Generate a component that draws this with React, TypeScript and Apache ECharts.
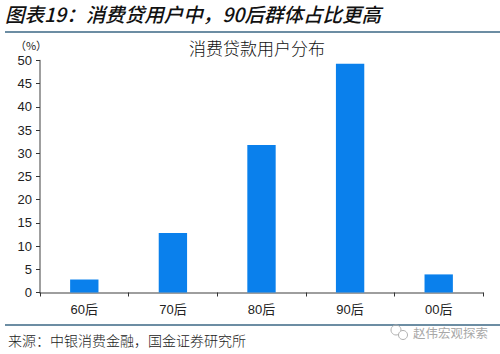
import React, { useEffect, useRef } from "react";
import * as echarts from "echarts";

const categories = ["60后", "70后", "80后", "90后", "00后"];
const shares = [2.8, 12.8, 31.8, 49.3, 3.9];
const yTicks = { min: 0, max: 50, interval: 5 };
const headline = "图表19：消费贷用户中，90后群体占比更高";
const chartTitle = "消费贷款用户分布";
const unitLabel = "（%）";
const sourceText = "来源：中银消费金融，国金证券研究所";
const watermark = "赵伟宏观探索";

export default function App() {
  const ref = useRef<HTMLDivElement>(null);
  useEffect(() => {
    if (!ref.current) return;
    const chart = echarts.init(ref.current, null, { renderer: "svg" });
    const axisColor = "#7f7f7f";
    const lineColor = "#3b6784";
    chart.setOption({
      animation: false,
      backgroundColor: "#ffffff",
      grid: { left: 40, right: 17, top: 60.5, bottom: 61.5, containLabel: false },
      xAxis: {
        type: "category",
        data: categories,
        boundaryGap: true,
        axisLine: { lineStyle: { color: axisColor, width: 1.5 } },
        axisTick: { show: true, alignWithLabel: false, length: 4, lineStyle: { color: "#333" } },
        axisLabel: { color: "#222", fontSize: 13, fontFamily: "Liberation Sans, Noto Sans CJK SC", margin: 10 },
      },
      yAxis: {
        type: "value",
        min: yTicks.min,
        max: yTicks.max,
        interval: yTicks.interval,
        axisLine: { show: true, lineStyle: { color: axisColor, width: 1.5 } },
        axisTick: { show: true, inside: false, length: 4, lineStyle: { color: "#333" } },
        splitLine: { show: false },
        axisLabel: { color: "#222", fontSize: 13, fontFamily: "Liberation Sans", margin: 8 },
      },
      series: [
        {
          type: "bar",
          data: shares,
          barWidth: "32%",
          itemStyle: { color: "#0a80ec" },
        },
      ],
      graphic: [
        {
          type: "text",
          left: 5,
          top: 4,
          style: {
            text: headline,
            fontSize: 19.5,
            fontStyle: "italic",
            fontWeight: 500,
            fontFamily: "Noto Sans CJK SC",
            fill: "#111",
          },
        },
        {
          type: "line",
          shape: { x1: 5, y1: 32, x2: 500, y2: 32 },
          style: { stroke: lineColor, lineWidth: 1.5 },
        },
        {
          type: "text",
          x: 257,
          y: 47,
          style: {
            text: chartTitle,
            fontSize: 17,
            fontWeight: 300,
            fontFamily: "Noto Sans CJK SC",
            fill: "#111",
            align: "center",
            verticalAlign: "middle",
          },
        },
        {
          type: "text",
          x: 31,
          y: 45,
          style: {
            text: unitLabel,
            fontSize: 11,
            fontFamily: "Noto Sans CJK SC",
            fill: "#222",
            align: "center",
            verticalAlign: "middle",
          },
        },
        {
          type: "line",
          shape: { x1: 5, y1: 325, x2: 500, y2: 325 },
          style: { stroke: lineColor, lineWidth: 1.5 },
        },
        {
          type: "text",
          x: 8,
          y: 340,
          style: {
            text: sourceText,
            fontSize: 14,
            fontWeight: 300,
            fontFamily: "Noto Sans CJK SC",
            fill: "#222",
            verticalAlign: "middle",
          },
        },
        {
          type: "circle",
          shape: { cx: 396, cy: 330, r: 5 },
          style: { fill: "none", stroke: "#b0b0b0", lineWidth: 1 },
        },
        {
          type: "circle",
          shape: { cx: 403, cy: 335, r: 4.5 },
          style: { fill: "#ffffff", stroke: "#b0b0b0", lineWidth: 1 },
        },
        {
          type: "text",
          x: 413,
          y: 332,
          style: {
            text: watermark,
            fontSize: 12.5,
            fontFamily: "Noto Sans CJK SC",
            fill: "#a8a8a8",
            verticalAlign: "middle",
          },
        },
      ],
    });
    return () => chart.dispose();
  }, []);
  return (
    <div
      ref={ref}
      style={{ position: "fixed", left: 0, top: 0, width: 500, height: 354 }}
    />
  );
}
